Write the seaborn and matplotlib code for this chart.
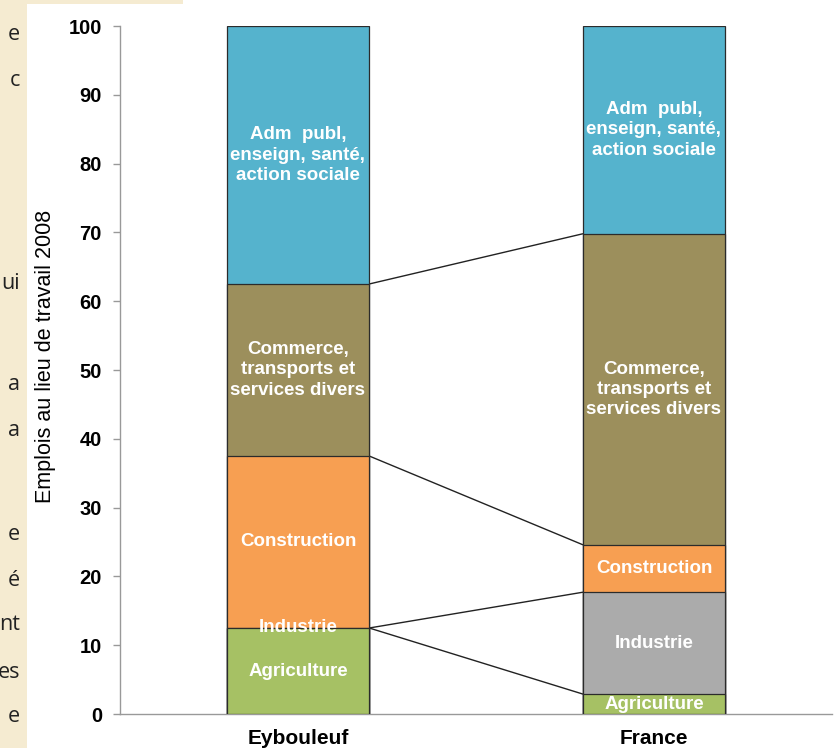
import numpy as np
import pandas as pd
import seaborn as sns
import matplotlib.pyplot as plt
from matplotlib.patches import Rectangle

# --- data ---
places = ["Eybouleuf", "France"]
sectors = ["Agriculture", "Industrie", "Construction",
           "Commerce,\ntransports et\nservices divers",
           "Adm  publ,\nenseign, santé,\naction sociale"]
eybouleuf = [12.5, 0.0, 25.0, 25.0, 37.5]
france = [2.9, 14.8, 6.9, 45.2, 30.2]
colors = ["#A6C164", "#ABABAB", "#F79F52", "#9C8F5C", "#55B3CD"]
ytick_values = list(range(0, 101, 10))
side_fragments = ["e", "c", "ui", "a", "a", "e", "é", "nt", "es", "e"]
side_fragment_y = [35, 80, 283, 385, 430, 535, 580, 625, 672, 717]

values = pd.DataFrame({"Eybouleuf": eybouleuf, "France": france}, index=sectors)
tops = values.cumsum()
bottoms = tops - values

sns.set_style("white")
plt.rcParams["font.family"] = ["Liberation Sans", "DejaVu Sans"]

fig = plt.figure(figsize=(8.4, 7.48), dpi=100)
W, H = 840, 748

# beige slide panel on the left (part of the screenshot)
beige = "#F5EBD1"
fig.patches.append(Rectangle((0, 0), 27 / W, 1, transform=fig.transFigure,
                             facecolor=beige, edgecolor="none", zorder=0))
fig.patches.append(Rectangle((0, 1 - 4 / H), 183 / W, 4 / H, transform=fig.transFigure,
                             facecolor=beige, edgecolor="none", zorder=0))
for frag, yp in zip(side_fragments, side_fragment_y):
    fig.text(20 / W, 1 - yp / H, frag, ha="right", va="center",
             fontsize=15.5, color="#222222", family=["Open Sans", "DejaVu Sans"])

ax = fig.add_axes([120 / W, 1 - 714 / H, 712 / W, 688 / H])

# stacked bars: draw cumulative totals from the top segment down
for i in range(len(sectors) - 1, -1, -1):
    df = pd.DataFrame({"place": places, "top": tops.iloc[i].values})
    sns.barplot(data=df, x="place", y="top", color=colors[i], width=0.4,
                saturation=1, edgecolor="#2b2b2b", linewidth=0.9, ax=ax, zorder=2)

# segment labels
for j, place in enumerate(places):
    for i, sec in enumerate(sectors):
        mid = bottoms[place].iloc[i] + values[place].iloc[i] / 2
        ax.text(j, mid, sec, ha="center", va="center", color="white",
                fontsize=13.5, fontweight="bold", linespacing=1.25, zorder=5)

# series lines between the bars
for i in range(len(sectors) - 1):
    ax.plot([0.2, 0.8], [tops["Eybouleuf"].iloc[i], tops["France"].iloc[i]],
            color="#222222", lw=1.0, zorder=1)

ax.set_xlim(-0.5, 1.5)
ax.set_ylim(0, 100)
ax.set_yticks(ytick_values)
ax.set_yticklabels([str(v) for v in ytick_values], fontsize=14.5,
                   fontweight="bold", color="black")
ax.set_xticks([0, 1])
ax.set_xticklabels(places, fontsize=15, fontweight="bold", color="black")
ax.set_xticks([-0.5, 0.5, 1.5], minor=True)
ax.tick_params(axis="x", which="major", length=0, pad=11)
ax.tick_params(axis="x", which="minor", length=5, color="#999999", width=1)
ax.tick_params(axis="y", length=5, color="#999999", width=1, pad=8, left=True)
ax.set_xlabel("")
ax.set_ylabel("Emplois au lieu de travail 2008", fontsize=15.5, color="black")
ax.yaxis.set_label_coords(-0.09, 0.52)

for s in ["top", "right"]:
    ax.spines[s].set_visible(False)
for s in ["left", "bottom"]:
    ax.spines[s].set_color("#999999")
    ax.spines[s].set_linewidth(1)
ax.spines["bottom"].set_zorder(0)
ax.set_facecolor("none")

fig.savefig("out.png", dpi=100, facecolor="white")
